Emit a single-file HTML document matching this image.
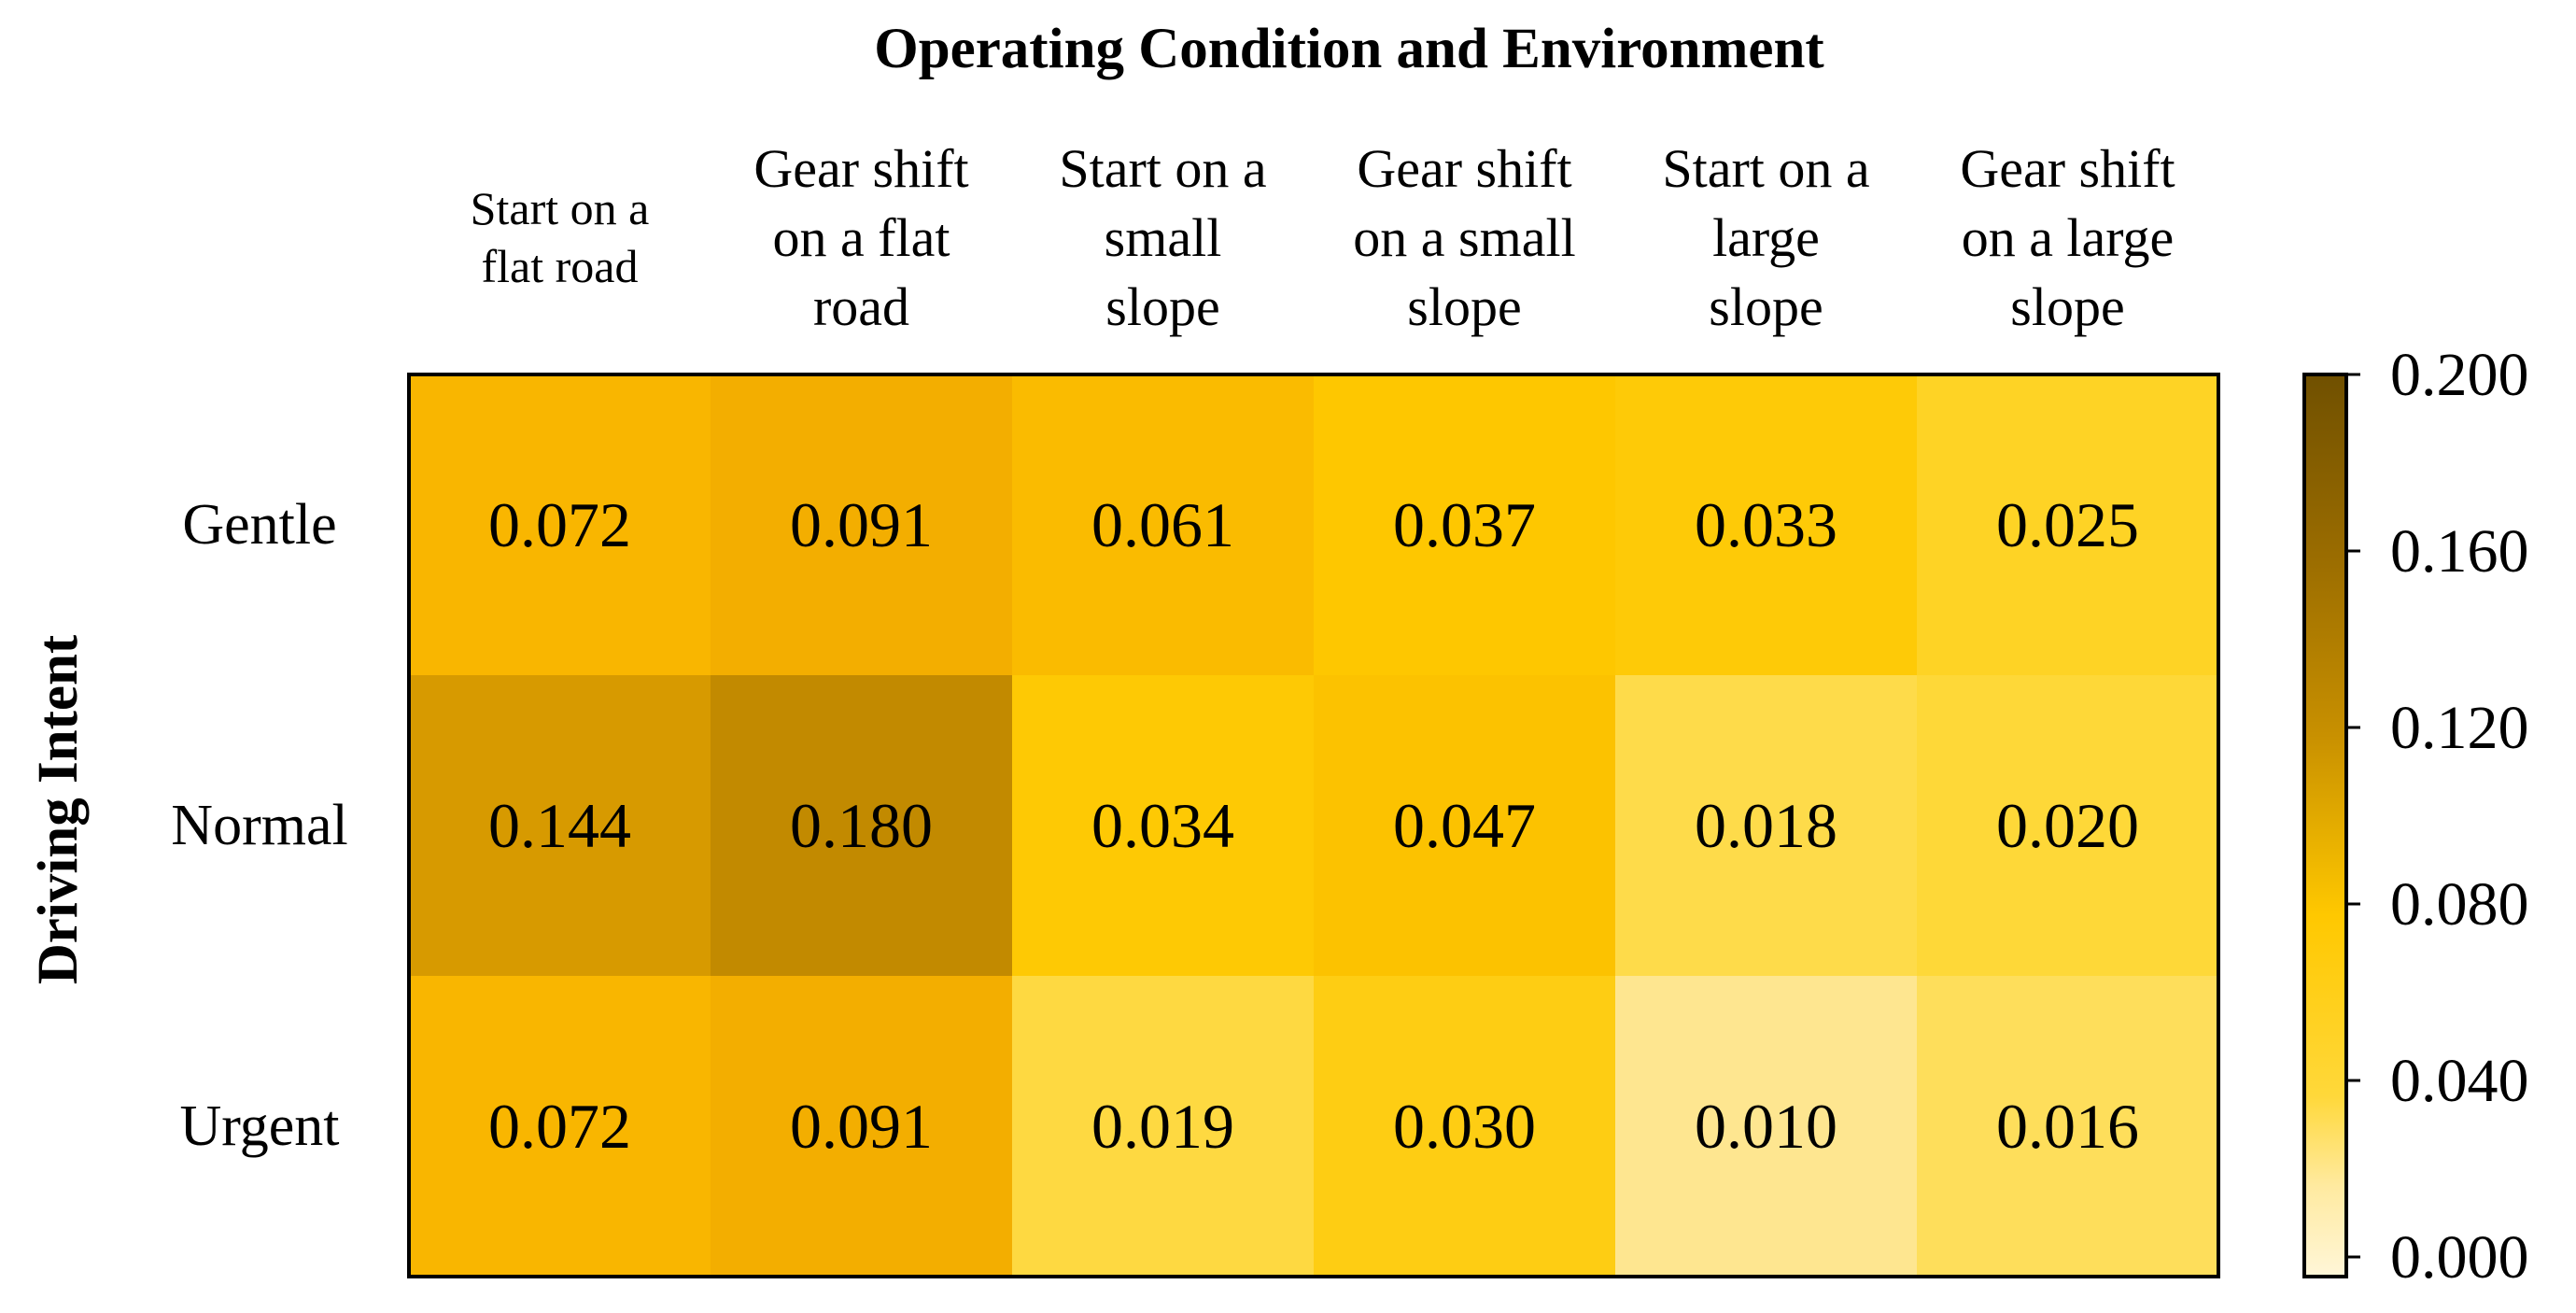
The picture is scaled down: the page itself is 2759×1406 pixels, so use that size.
<!DOCTYPE html>
<html><head><meta charset="utf-8"><style>
html,body{margin:0;padding:0;background:#fff;}
svg{display:block;font-family:"Liberation Serif",serif;}
svg text{font-family:"Liberation Serif",serif;}
</style></head><body>
<svg id="chart" width="2759" height="1406" viewBox="0 0 2759 1406">
<defs>
<linearGradient id="cbgrad" x1="0" y1="1" x2="0" y2="0">
<stop offset="0" stop-color="#fff6d8"/><stop offset="0.1" stop-color="#ffeaa0"/><stop offset="0.2" stop-color="#ffd83a"/>
<stop offset="0.4" stop-color="#ffc800"/><stop offset="0.6" stop-color="#c89000"/><stop offset="0.8" stop-color="#9a6c00"/><stop offset="1" stop-color="#705000"/>
</linearGradient>
</defs>
<text x="1445" y="72" font-size="61" font-weight="bold" text-anchor="middle">Operating Condition and Environment</text>
<text transform="translate(82,867) rotate(-90)" font-size="61" font-weight="bold" text-anchor="middle">Driving Intent</text>
<g id="cells"></g>
<rect x="438" y="401" width="1938" height="966" fill="none" stroke="#000" stroke-width="4"/>
<rect x="2468" y="401" width="45" height="966" fill="url(#cbgrad)" stroke="#000" stroke-width="4"/>
<g id="cbticks"></g>
</svg>
<script>
const cols = [["Start on a","flat road"],["Gear shift","on a flat","road"],["Start on a","small","slope"],["Gear shift","on a small","slope"],["Start on a","large","slope"],["Gear shift","on a large","slope"]];
const rows = ["Gentle","Normal","Urgent"];
const values = [
 [0.072,0.091,0.061,0.037,0.033,0.025],
 [0.144,0.180,0.034,0.047,0.018,0.020],
 [0.072,0.091,0.019,0.030,0.010,0.016]
];
const cbTicks = [0.000,0.040,0.080,0.120,0.160,0.200];
const NS="http://www.w3.org/2000/svg";
const X0=438,Y0=401,W=1938,H=966,cw=W/cols.length,rh=H/rows.length;
const xc=i=>X0+cw*(i+0.5), yc=j=>Y0+rh*(j+0.5);
const cbY=v=>1346-(v-0)/(0.2)*945;
const stops=[[0,[255,246,216]],[0.01,[254,230,144]],[0.02,[254,216,56]],[0.035,[254,200,0]],[0.07,[249,183,0]],[0.09,[244,174,0]],[0.145,[214,154,0]],[0.18,[194,138,0]],[0.2,[160,112,0]]];
function color(v){for(let k=1;k<stops.length;k++){if(v<=stops[k][0]){const a=stops[k-1],b=stops[k],t=(v-a[0])/(b[0]-a[0]);return 'rgb('+a[1].map((c,i)=>Math.round(c+(b[1][i]-c)*t)).join(',')+')';}}return 'rgb(160,112,0)';}
const svg=document.getElementById('chart'),g=document.getElementById('cells'),cb=document.getElementById('cbticks');
function el(t,a,p){const e=document.createElementNS(NS,t);for(const k in a)e.setAttribute(k,a[k]);p.appendChild(e);return e;}
values.forEach((row,j)=>row.forEach((v,i)=>{
 const r=el('rect',{x:X0+cw*i,y:Y0+rh*j,width:cw+0.5,height:rh+0.5,fill:color(v)},g);
 
 
 const t=el('text',{x:xc(i),y:yc(j)+23,'font-size':68,'text-anchor':'middle'},g);
 t.textContent=v.toFixed(3);
 
 
}));
rows.forEach((r,j)=>{
 const t=el('text',{x:278,y:yc(j)+20,'font-size':62,'text-anchor':'middle'},svg);
 t.textContent=r;
 
 
});
cols.forEach((lines,i)=>{
 const small=lines.length===2;
 const fs=small?50:58, lh=small?62:74;
 const base=small?240:200;
 lines.forEach((ln,k)=>{
  const t=el('text',{x:xc(i),y:base+k*lh,'font-size':fs,'text-anchor':'middle'},svg);
  t.textContent=ln;
  
  
 });
});
cbTicks.forEach(v=>{
 const y=cbY(v);
 const l=el('line',{x1:2512,x2:2528,y1:y,y2:y,stroke:'#000','stroke-width':3},cb);
 
 
 const t=el('text',{x:2560,y:y+22,'font-size':66},cb);
 t.textContent=v.toFixed(3);
 
 
});
</script>
</body></html>
